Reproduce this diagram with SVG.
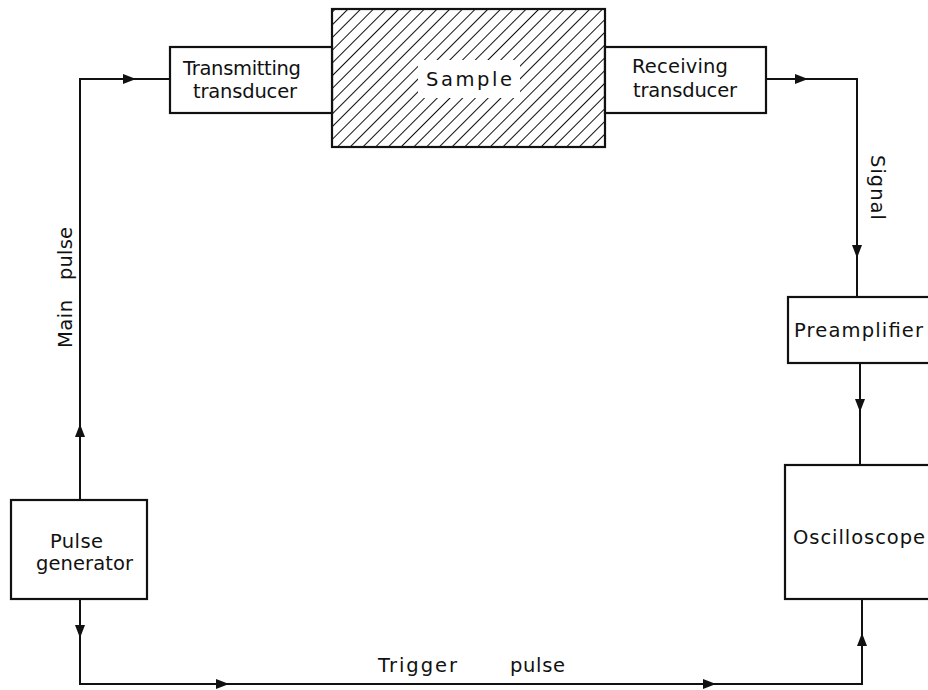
<svg xmlns="http://www.w3.org/2000/svg" xmlns:xlink="http://www.w3.org/1999/xlink" width="928" height="690" viewBox="0 0 928 690">
<style>
.box{fill:#fff;stroke:#111;stroke-width:2.2}
.ln{fill:none;stroke:#111;stroke-width:2}
.t{font-family:"DejaVu Sans","Liberation Sans",sans-serif;font-size:19.5px;fill:#111}
.ah{fill:#111}
</style>
<defs>
<pattern id="hatch" patternUnits="userSpaceOnUse" width="9" height="9" patternTransform="rotate(45)">
<rect width="9" height="9" fill="#fff"/>
<line x1="0" y1="0" x2="0" y2="9" stroke="#111" stroke-width="2"/>
</pattern>
<path id="ah" d="M-13,-5 L0,0 L-13,5 Z"/>
</defs>
<rect width="928" height="690" fill="#fff"/>
<g id="connectors">
<path class="ln" d="M80,500 V79 H170"/>
<path class="ln" d="M766,79 H857 V297"/>
<path class="ln" d="M860,363 V465"/>
<path class="ln" d="M80,599 V684 H862 V599"/>
<g class="ah">
<use xlink:href="#ah" transform="translate(80,424) rotate(-90)"/>
<use xlink:href="#ah" transform="translate(136,79)"/>
<use xlink:href="#ah" transform="translate(808,79)"/>
<use xlink:href="#ah" transform="translate(857,258) rotate(90)"/>
<use xlink:href="#ah" transform="translate(860,412) rotate(90)"/>
<use xlink:href="#ah" transform="translate(80,638) rotate(90)"/>
<use xlink:href="#ah" transform="translate(229,684)"/>
<use xlink:href="#ah" transform="translate(716,684)"/>
<use xlink:href="#ah" transform="translate(862,633) rotate(-90)"/>
</g>
<text class="t" transform="translate(72,348) rotate(-90)"><tspan x="0" y="0" textLength="48" lengthAdjust="spacing">Main</tspan><tspan x="68" y="0" textLength="53" lengthAdjust="spacing">pulse</tspan></text>
<text class="t" transform="translate(871,155) rotate(90)" x="0" y="0" textLength="65" lengthAdjust="spacing">Signal</text>
<text class="t" y="672"><tspan x="378" textLength="79" lengthAdjust="spacing">Trigger</tspan><tspan x="510" textLength="55" lengthAdjust="spacing">pulse</tspan></text>
</g>
<g id="sample">
<rect x="332" y="9" width="273" height="138" fill="url(#hatch)" stroke="#111" stroke-width="2.2"/>
<rect x="418" y="60" width="102" height="38" fill="#fff"/>
<text class="t" x="426" y="86" textLength="86" lengthAdjust="spacing">Sample</text>
</g>
<g id="transmitting">
<rect class="box" x="170" y="47" width="162" height="66"/>
<text class="t" x="183" y="75" textLength="118" lengthAdjust="spacing">Transmitting</text>
<text class="t" x="193" y="98" textLength="104" lengthAdjust="spacing">transducer</text>
</g>
<g id="receiving">
<rect class="box" x="605" y="47" width="161" height="66"/>
<text class="t" x="632" y="73" textLength="96" lengthAdjust="spacing">Receiving</text>
<text class="t" x="633" y="97" textLength="104" lengthAdjust="spacing">transducer</text>
</g>
<g id="preamplifier">
<rect class="box" x="788" y="297" width="160" height="66"/>
<text class="t" x="794" y="337" textLength="129" lengthAdjust="spacing">Preamplifier</text>
</g>
<g id="oscilloscope">
<rect class="box" x="785" y="465" width="160" height="134"/>
<text class="t" x="793" y="544" textLength="132" lengthAdjust="spacing">Oscilloscope</text>
</g>
<g id="pulsegen">
<rect class="box" x="11" y="500" width="136" height="99"/>
<text class="t" x="50" y="548" textLength="53" lengthAdjust="spacing">Pulse</text>
<text class="t" x="36" y="570" textLength="97" lengthAdjust="spacing">generator</text>
</g>
</svg>
